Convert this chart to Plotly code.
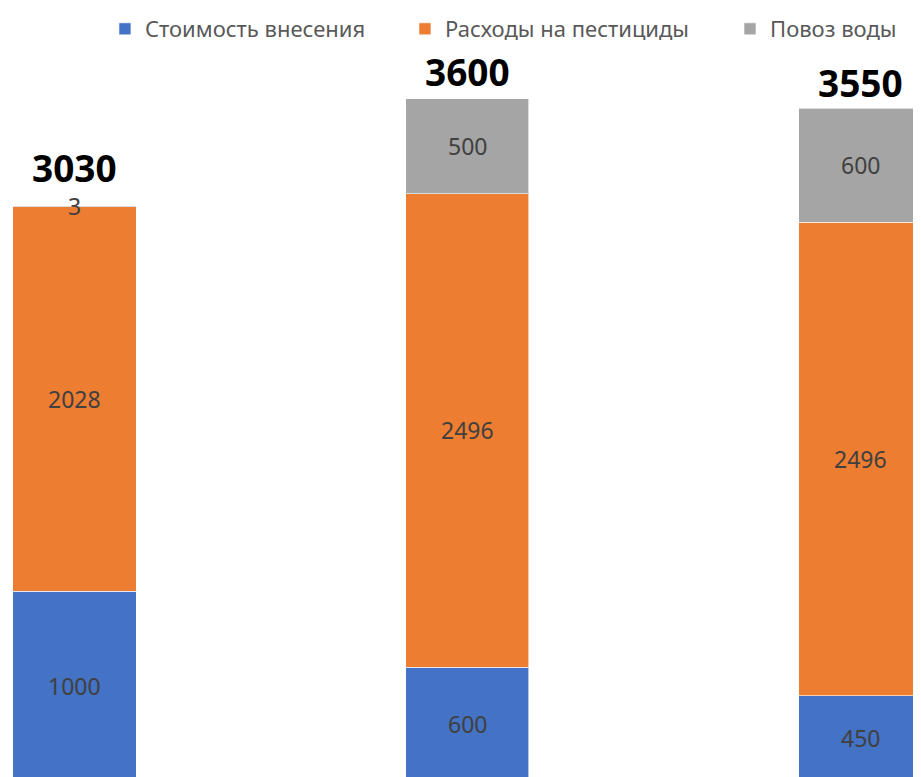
import plotly.graph_objects as go

categories = ["Вариант 1", "Вариант 2", "Вариант 3"]
series_names = ["Стоимость внесения", "Расходы на пестициды", "Повоз воды"]
application_cost = [1000, 600, 450]
pesticide_cost = [2028, 2496, 2496]
water_delivery = [3, 500, 600]
totals = [3030, 3600, 3550]

colors = ["#4472C4", "#ED7D31", "#A5A5A5"]
series_values = [application_cost, pesticide_cost, water_delivery]
total_label_shift = [11, 0, -2]
legend_ids = ["legend", "legend2", "legend3"]
legend_x = [0.1062, 0.4348, 0.7908]

FONT = "Noto Sans"
fig = go.Figure()
for name, vals, col, lg in zip(series_names, series_values, colors, legend_ids):
    fig.add_trace(go.Bar(
        x=categories, y=vals, name=name, legend=lg,
        marker=dict(color=col, line=dict(color="rgba(255,255,255,0.6)", width=1)),
        width=0.313,
    ))

annotations = []
for i, cat in enumerate(categories):
    base = 0
    for vals in series_values:
        v = vals[i]
        annotations.append(dict(
            x=cat, y=base + v / 2, text=str(v), showarrow=False,
            font=dict(family=FONT, size=23, color="#404040"),
        ))
        base += v
    annotations.append(dict(
        x=cat, y=base, text="<b>%d</b>" % totals[i], showarrow=False,
        yanchor="bottom", yshift=total_label_shift[i],
        font=dict(family=FONT, size=37, color="#000000"),
    ))

legend_style = dict(orientation="h", xanchor="left", y=1.0, yanchor="top",
                    font=dict(family=FONT, size=22, color="#595959"),
                    bgcolor="rgba(0,0,0,0)")
fig.update_layout(
    width=913, height=769,
    margin=dict(l=0, r=0, t=0, b=0),
    paper_bgcolor="white", plot_bgcolor="white",
    barmode="stack",
    showlegend=True,
    legend=dict(x=legend_x[0], **legend_style),
    legend2=dict(x=legend_x[1], **legend_style),
    legend3=dict(x=legend_x[2], **legend_style),
    xaxis=dict(visible=False, range=[-0.1692, 2.154]),
    yaxis=dict(visible=False, range=[21, 4075]),
    annotations=annotations,
)

fig.write_html("out.html")
